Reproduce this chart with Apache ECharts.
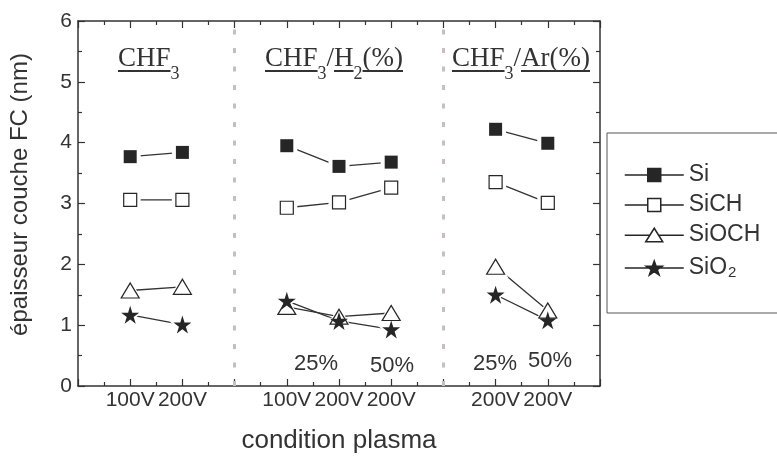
<!DOCTYPE html>
<html>
<head>
<meta charset="utf-8">
<script src="https://cdn.jsdelivr.net/npm/echarts@6/dist/echarts.min.js"></script>
<style>html,body{margin:0;padding:0;background:#fff}#c{width:777px;height:459px}</style>
</head>
<body>
<div id="c"></div>
<script>
// ---- data ----
const xPos = [1, 2, 4, 5, 6, 8, 9];
const xTickLabels = ['100V', '200V', '100V', '200V', '200V', '200V', '200V'];
const groupDividers = [3, 7];
const si    = [3.77, 3.84, 3.95, 3.61, 3.68, 4.22, 3.99];
const sich  = [3.06, 3.06, 2.93, 3.02, 3.26, 3.35, 3.01];
const sioch = [1.57, 1.63, 1.30, 1.14, 1.20, 1.96, 1.24];
const sio2  = [1.17, 1.01, 1.40, 1.07, 0.93, 1.50, 1.08];
const seriesNames = ['Si', 'SiCH', 'SiOCH', 'SiO2'];
const yTicks = [0, 1, 2, 3, 4, 5, 6];
const percentLabels = ['25%', '50%', '25%', '50%'];

const STAR_PTS = [[50,0],[61.2,34.5],[97.6,34.5],[68.2,55.9],[79.4,90.5],[50,69.1],[20.6,90.5],[31.8,55.9],[2.4,34.5],[38.8,34.5]];
const STAR = 'path://M' + STAR_PTS.map(p => p[0] + ',' + p[1]).join('L') + 'Z';
const DARK = '#262626';
const AX = '#333';
const styles = [
  {symbol: 'rect', size: 13, item: {color: DARK, opacity: 1}},
  {symbol: 'rect', size: 13, item: {color: '#fff', borderColor: DARK, borderWidth: 1.2, opacity: 1}},
  {symbol: 'triangle', size: [18, 15], item: {color: '#fff', borderColor: DARK, borderWidth: 1.2, opacity: 1}},
  {symbol: STAR, size: 18, item: {color: DARK, opacity: 1}}
];
const datasets = [si, sich, sioch, sio2];

// legend icons: line - symbol - line, in a 59 x 14 box
const LW = 59, LH = 14, MID = LH / 2;
function starLegend() {
  const sw = 16, x0 = (LW - sw) / 2;
  const pts = STAR_PTS.map(p => [(x0 + (p[0] - 2.4) * sw / 95.2).toFixed(2), (p[1] * LH / 90.5).toFixed(2)]);
  return 'path://M0,' + MID + 'L' + (x0 + 2) + ',' + MID + 'M' + (LW - x0 - 2) + ',' + MID + 'L' + LW + ',' + MID +
    'M' + pts.map(p => p.join(',')).join('L') + 'Z';
}
const legendIcons = [
  'path://M0,7L23,7M36,7L59,7M23,0.5h13v13h-13z',
  'path://M0,7L23,7M36,7L59,7M23,0.5h13v13h-13z',
  'path://M0,7L25.4,7M33.6,7L59,7M21,13.5L29.5,0L38,13.5Z',
  starLegend()
];

function lineData(vals) {
  const out = [];
  vals.forEach((v, i) => {
    if (i > 0 && xPos[i] - xPos[i - 1] > 1) out.push([(xPos[i] + xPos[i - 1]) / 2, '-']);
    out.push([xPos[i], v]);
  });
  return out;
}
function pts(vals) { return vals.map((v, i) => [xPos[i], v]); }

const series = [];
datasets.forEach((vals, k) => {
  const st = styles[k];
  series.push({
    name: seriesNames[k], type: 'line', data: lineData(vals), showSymbol: false,
    symbol: st.symbol, symbolSize: st.size, connectNulls: false, z: 2,
    lineStyle: {color: AX, width: 1.3}, itemStyle: st.item, emphasis: {disabled: true}, silent: true,
    markLine: k === 0 ? {
      silent: true, symbol: 'none', label: {show: false},
      lineStyle: {color: '#c8bebe', width: 3, type: [5, 13.5]},
      data: groupDividers.map(v => ({xAxis: v}))
    } : undefined
  });
});
datasets.forEach((vals, k) => {
  const st = styles[k];
  const s = Array.isArray(st.size) ? st.size.map(v => v + 8) : st.size + 8;
  series.push({
    name: 'halo' + k, type: 'scatter', data: pts(vals), symbol: st.symbol, symbolSize: s,
    itemStyle: {color: '#fff', opacity: 1}, z: 3, silent: true
  });
});
datasets.forEach((vals, k) => {
  const st = styles[k];
  series.push({
    name: 'mk' + k, type: 'scatter', data: pts(vals), symbol: st.symbol, symbolSize: st.size,
    itemStyle: st.item, z: 4, silent: true
  });
});

// ---- annotations (group titles) ----
const cvs = document.createElement('canvas').getContext('2d');
const MS = 27, SS = 18;
const MAINF = MS + 'px "Liberation Serif"', SUBF = SS + 'px "Liberation Serif"';
function w(t, f) { cvs.font = f; return cvs.measureText(t).width; }
function titleGroup(x0, base, parts) {
  const els = [];
  let x = x0;
  parts.forEach(p => {
    const f = p.sub ? SUBF : MAINF;
    const fs = p.sub ? SS : MS;
    const b = p.sub ? base + 12 : base;
    els.push({type: 'text', x: x, y: b - 0.32 * fs, style: {text: p.t, font: f, fill: AX, verticalAlign: 'middle', align: 'left'}, silent: true});
    const ww = w(p.t, f);
    if (p.u) els.push({type: 'line', shape: {x1: x, y1: base + 3, x2: x + ww, y2: base + 3}, style: {stroke: AX, lineWidth: 2}, silent: true});
    x += ww;
  });
  return els;
}
const graphics = [].concat(
  titleGroup(118, 68, [{t: 'CHF', u: true}, {t: '3', sub: true}]),
  titleGroup(265, 68, [{t: 'CHF', u: true}, {t: '3', sub: true}, {t: '/'}, {t: 'H', u: true}, {t: '2', sub: true}, {t: '(%)', u: true}]),
  titleGroup(452, 68, [{t: 'CHF', u: true}, {t: '3', sub: true}, {t: '/'}, {t: 'Ar(%)', u: true}])
);
const pctX = [316, 392, 495, 550], pctY = [364, 366, 364, 361];
percentLabels.forEach((t, i) => graphics.push({type: 'text', x: pctX[i], y: pctY[i], silent: true,
  style: {text: t, font: '22px "Liberation Sans"', fill: AX, align: 'center', verticalAlign: 'middle'}}));

const axisCommon = {
  type: 'value', axisLine: {show: true, onZero: false, lineStyle: {color: AX, width: 1.5}},
  axisTick: {show: true, inside: true, length: 7, lineStyle: {color: AX, width: 1.2}},
  minorTick: {show: true, splitNumber: 2, length: 4, lineStyle: {color: AX, width: 1.2}},
  splitLine: {show: false}, minorSplitLine: {show: false}
};

const chart = echarts.init(document.getElementById('c'), null, {renderer: 'canvas'});
chart.setOption({
  animation: false,
  backgroundColor: '#fff',
  grid: {left: 78, right: 177, top: 21, bottom: 72},
  xAxis: [
    Object.assign({}, axisCommon, {
      position: 'bottom', min: 0, max: 10, interval: 1,
      name: 'condition plasma', nameLocation: 'middle', nameGap: 42,
      nameTextStyle: {fontSize: 26, color: AX, fontFamily: 'Liberation Sans'},
      axisLabel: {fontSize: 21, color: AX, margin: 4, fontFamily: 'Liberation Sans',
        formatter: v => { const i = xPos.indexOf(v); return i >= 0 ? xTickLabels[i] : ''; }}
    }),
    Object.assign({}, axisCommon, {position: 'top', min: 0, max: 10, interval: 1, axisLabel: {show: false}})
  ],
  yAxis: [
    Object.assign({}, axisCommon, {
      position: 'left', min: yTicks[0], max: yTicks[yTicks.length - 1], interval: 1,
      name: 'épaisseur couche FC (nm)', nameLocation: 'middle', nameGap: 46,
      nameTextStyle: {fontSize: 24, color: AX, fontFamily: 'Liberation Sans', padding: [0, 0, 0, 18]},
      axisLabel: {fontSize: 21, color: AX, margin: 6, fontFamily: 'Liberation Sans'}
    }),
    Object.assign({}, axisCommon, {position: 'right', min: 0, max: 6, interval: 1, axisLabel: {show: false}})
  ],
  legend: {
    orient: 'vertical', left: 607, top: 133, selectedMode: false,
    itemWidth: LW, itemHeight: LH, itemGap: 6, padding: [30, 40, 33, 17],
    borderColor: '#555', borderWidth: 1,
    textStyle: {fontSize: 23, color: AX, fontFamily: 'Liberation Sans', lineHeight: 24,
      rich: {sub: {fontSize: 15, color: AX, fontFamily: 'Liberation Sans', verticalAlign: 'bottom', lineHeight: 15, padding: [12, 0, 0, 1]}}},
    formatter: n => n === 'SiO2' ? 'SiO{sub|2}' : n,
    data: seriesNames.map((n, k) => ({
      name: n, icon: legendIcons[k],
      itemStyle: {color: styles[k].item.color, borderColor: DARK, borderWidth: 1.5, opacity: 1}
    }))
  },
  graphic: graphics,
  series: series
});
</script>
</body>
</html>
